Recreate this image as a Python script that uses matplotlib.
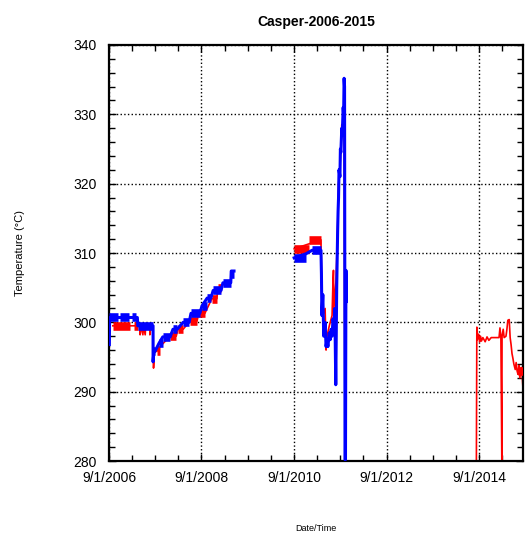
import numpy as np
import matplotlib
matplotlib.use('Agg')
import matplotlib.pyplot as plt
from matplotlib.ticker import FixedLocator, MultipleLocator

plt.rcParams['font.family'] = ['Liberation Sans', 'DejaVu Sans']

# x values are decimal years (9/1 = year + 0.667)
tick_years = [2006.667, 2008.667, 2010.667, 2012.667, 2014.667]
tick_labels = ['9/1/2006', '9/1/2008', '9/1/2010', '9/1/2012', '9/1/2014']

# thick blocks: start, end, temperature
blue_block_start = [2006.67, 2006.90, 2007.16, 2007.29, 2007.61, 2007.75, 2007.83, 2008.05,
                    2008.27, 2008.44, 2008.68, 2008.79, 2008.92, 2009.13, 2009.29, 2010.67, 2011.06]
blue_block_end = [2006.86, 2007.10, 2007.25, 2007.62, 2007.66, 2007.83, 2007.99, 2008.14,
                  2008.40, 2008.63, 2008.79, 2008.87, 2009.09, 2009.30, 2009.37, 2010.93, 2011.25]
blue_block_temp = [300.7, 300.7, 300.7, 299.5, 295.8, 297.0, 297.9, 299.0,
                   300.0, 301.3, 302.4, 303.5, 304.6, 305.7, 306.9, 309.3, 310.4]

red_block_start = [2006.75, 2007.21, 2007.70, 2007.99, 2008.16, 2008.42, 2008.61, 2008.89,
                   2009.02, 2010.67, 2010.99, 2015.52]
red_block_end = [2007.12, 2007.29, 2007.77, 2008.12, 2008.27, 2008.57, 2008.74, 2009.00,
                 2009.09, 2010.99, 2011.25, 2015.62]
red_block_temp = [299.5, 299.5, 295.9, 298.0, 299.0, 300.2, 301.3, 303.4,
                  304.9, 310.6, 311.9, 293.0]

# thin traces (nan = gap in record)
blue_years = [2006.675, 2006.68, 2007.28, 2007.29, 2007.62, 2007.62, 2007.64, 2007.66, 2007.75,
              2007.83, 2007.99, 2008.05, 2008.14, 2008.27, 2008.40, 2008.44, 2008.63, 2008.68,
              2008.79, 2008.87, 2008.92, 2009.09, 2009.13, 2009.30, 2009.31, 2009.37, np.nan,
              2010.67, 2010.93, 2011.06, 2011.25, 2011.26, 2011.27, 2011.29, 2011.31, 2011.34,
              2011.36, 2011.38, 2011.40, 2011.43, 2011.45, 2011.47, 2011.49, 2011.51, 2011.53,
              2011.55, 2011.57, 2011.59, 2011.60, 2011.61, 2011.62, 2011.63, 2011.64, 2011.66,
              2011.67, 2011.68, 2011.70, 2011.71, 2011.73, 2011.74, 2011.75, 2011.76, 2011.77,
              2011.78, 2011.79, 2011.80]
blue_temps = [296.8, 300.7, 300.7, 299.5, 299.5, 294.3, 296.0, 295.8, 297.0,
              297.9, 297.9, 299.0, 299.0, 300.0, 300.0, 301.3, 301.3, 302.4,
              303.5, 303.5, 304.6, 304.6, 305.7, 305.7, 307.4, 307.4, np.nan,
              309.3, 309.9, 310.4, 310.4, 307.0, 301.0, 304.0, 298.0, 300.0,
              296.5, 297.5, 296.5, 298.5, 297.5, 299.0, 298.0, 300.5, 299.5,
              302.0, 291.0, 305.0, 309.0, 313.0, 316.0, 318.0, 322.0, 321.0,
              325.0, 324.5, 328.0, 327.0, 331.0, 330.0, 335.2, 334.0, 280.2,
              280.2, 307.5, 303.0]

red_years = [2006.75, 2007.29, 2007.34, 2007.34, 2007.36, 2007.40, 2007.41, 2007.45, 2007.46,
             2007.55, 2007.55, 2007.57, 2007.62, 2007.63, 2007.65, 2007.70, 2007.77, 2007.99,
             2008.12, 2008.16, 2008.27, 2008.42, 2008.57, 2008.61, 2008.74, 2008.89, 2009.00,
             2009.02, 2009.09, np.nan,
             2010.67, 2011.25, 2011.26, 2011.27, 2011.29, 2011.34, 2011.36, 2011.38, 2011.43,
             2011.45, 2011.49, 2011.51, 2011.52, 2011.53, 2011.575, 2011.605, 2011.63, 2011.645,
             2011.665, 2011.685, 2011.70, 2011.71, 2011.72, 2011.73, 2011.75, 2011.77, 2011.78,
             2011.79, 2011.80, np.nan,
             2014.61, 2014.62, 2014.63, 2014.66, 2014.68, 2014.70, 2014.72, 2014.75, 2014.80,
             2014.84, 2014.88, 2014.93, 2014.97, 2015.10, 2015.12, 2015.14, 2015.16, 2015.165,
             2015.19, 2015.21, 2015.25, 2015.27, 2015.29, 2015.32, 2015.34, 2015.36, 2015.38,
             2015.40, 2015.42, 2015.45, 2015.47, 2015.49, 2015.51, 2015.53, 2015.55, 2015.58,
             2015.60, 2015.62]
red_temps = [299.5, 299.5, 299.5, 298.2, 299.5, 298.2, 299.5, 298.2, 299.5,
             299.5, 298.2, 299.5, 299.5, 293.4, 296.0, 295.8, 296.5, 298.0,
             298.0, 299.0, 299.0, 300.2, 300.2, 301.3, 301.3, 303.4, 303.4,
             304.9, 304.9, np.nan,
             310.6, 311.9, 307.5, 303.0, 301.0, 302.0, 296.0, 298.0, 299.5,
             300.0, 301.0, 306.0, 307.5, 302.0, 306.0, 312.0, 320.0, 321.0,
             323.0, 326.0, 328.5, 327.0, 328.3, 327.5, 330.0, 281.5, 281.8,
             303.5, 303.0, np.nan,
             280.0, 299.3, 297.5, 298.3, 297.2, 298.0, 297.3, 297.8, 297.2,
             297.9, 297.4, 297.8, 297.8, 297.8, 299.2, 297.8, 280.0, 298.0,
             299.0, 297.8, 298.0, 299.0, 300.3, 300.4, 297.8, 296.8, 295.5,
             294.8, 294.0, 293.2, 294.2, 293.0, 292.5, 293.8, 292.0, 293.5,
             292.3, 290.2]

fig = plt.figure(figsize=(5.25, 5.35), dpi=100)
ax = fig.add_axes([0.2076, 0.1383, 0.7886, 0.7776])

ax.plot(red_years, red_temps, color='#ff0000', lw=1.2, zorder=2)
ax.hlines(red_block_temp, red_block_start, red_block_end, color='#ff0000', lw=6.2, zorder=3)
ax.plot(blue_years, blue_temps, color='#0000ff', lw=2.2, zorder=4)
ax.hlines(blue_block_temp, blue_block_start, blue_block_end, color='#0000ff', lw=6.2, zorder=5)

ax.set_xlim(2006.667, 2015.618)
ax.set_ylim(280, 340)

ax.xaxis.set_major_locator(FixedLocator(tick_years))
ax.xaxis.set_minor_locator(FixedLocator(np.arange(2006.667, 2015.6, 0.5)))
ax.set_xticklabels(tick_labels)
ax.yaxis.set_major_locator(MultipleLocator(10))
ax.yaxis.set_minor_locator(MultipleLocator(2))

ax.tick_params(which='both', direction='in', top=True, right=True, width=1, color='black')
ax.tick_params(which='major', length=5)
ax.tick_params(which='minor', length=4)
ax.tick_params(axis='x', labelsize=10, pad=7)
ax.tick_params(axis='y', labelsize=10, pad=9)

ax.grid(True, which='major', color='black', linestyle=':', linewidth=1)
for sp in ax.spines.values():
    sp.set_linewidth(1.6)

ax.set_title('Casper-2006-2015', fontsize=10, fontweight='bold', pad=14)
fig.text(0.038, 0.5276, 'Temperature (°C)', rotation=90, fontsize=8, ha='center', va='center')
fig.text(0.602, 0.013, 'Date/Time', fontsize=6.5, ha='center', va='center')

fig.savefig('out.png', dpi=100)
